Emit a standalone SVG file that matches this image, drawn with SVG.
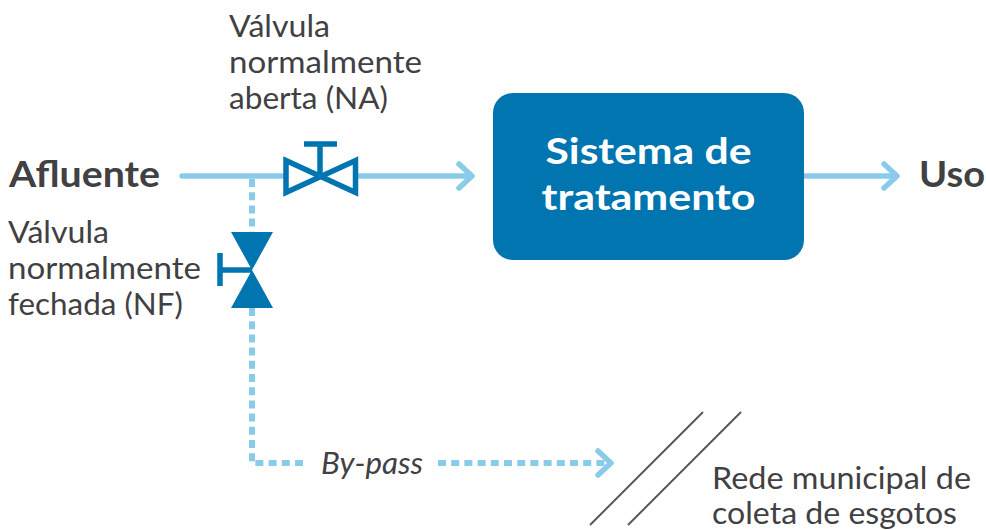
<svg xmlns="http://www.w3.org/2000/svg" width="986" height="530" viewBox="0 0 986 530">
<style>
.t{font-family:Lato,"Open Sans","Liberation Sans",sans-serif;fill:#414042}
.r{font-size:30px}
.b{font-size:36px;font-weight:700}
.c{stroke:#89cbe9;stroke-width:5.5;fill:none}
.h{stroke-linecap:round;stroke-linejoin:round}
.d{stroke-dasharray:8 5.2;stroke-width:6}
.v{fill:#0075b0}
.vs{stroke:#0075b0;fill:none}
</style>
<rect width="986" height="530" fill="#fff"/>
<g id="connectors">
<path class="c h" d="M182 176H284"/>
<path class="c" d="M356 176H472"/>
<path class="c h" d="M459 164L472 176L459 188"/>
<path class="c" d="M803 176H897"/>
<path class="c h" d="M884 164L897 176L884 188"/>
<path class="c d" d="M252 179V232"/>
<path class="c d" d="M252 308V463H303"/>
<path class="c d" d="M438 463H608"/>
<path class="c h" d="M598 451L611 463L598 475"/>
<path d="M590 525L703 412M628 525L741 412" stroke="#58595b" stroke-width="2" fill="none"/>
</g>
<g id="valve-na">
<path class="vs" stroke-width="5.500" d="M286 160.500V192.500L355.500 160.500V192.500Z"/>
<path class="vs" stroke-width="5.500" d="M320 176V144M304 144H337"/>
</g>
<g id="valve-nf">
<path class="v" d="M231 232H273L231 308H273Z"/>
<path class="vs" stroke-width="5.500" d="M252 270H220M220 253V286"/>
</g>
<g id="sistema">
<rect x="493" y="93" width="311" height="167" rx="20" fill="#0075b0"/>
<text class="t b" style="fill:#fff" x="648.500" y="164" text-anchor="middle" textLength="206" lengthAdjust="spacingAndGlyphs">Sistema de</text>
<text class="t b" style="fill:#fff" x="648.500" y="210" text-anchor="middle" textLength="214" lengthAdjust="spacingAndGlyphs">tratamento</text>
</g>
<g id="afluente"><text class="t b" x="9" y="187" textLength="151" lengthAdjust="spacingAndGlyphs">Afluente</text></g>
<g id="uso"><text class="t b" x="919" y="187" textLength="66" lengthAdjust="spacingAndGlyphs">Uso</text></g>
<g id="label-na">
<text class="t r" x="229" y="37" textLength="101" lengthAdjust="spacingAndGlyphs">Válvula</text>
<text class="t r" x="229" y="73" textLength="193" lengthAdjust="spacingAndGlyphs">normalmente</text>
<text class="t r" x="229" y="109" textLength="159" lengthAdjust="spacingAndGlyphs">aberta (NA)</text>
</g>
<g id="label-nf">
<text class="t r" x="8" y="243" textLength="101" lengthAdjust="spacingAndGlyphs">Válvula</text>
<text class="t r" x="8" y="279" textLength="193" lengthAdjust="spacingAndGlyphs">normalmente</text>
<text class="t r" x="8" y="315" textLength="175" lengthAdjust="spacingAndGlyphs">fechada (NF)</text>
</g>
<g id="bypass"><text class="t r" font-style="italic" x="321" y="474" textLength="102" lengthAdjust="spacingAndGlyphs">By-pass</text></g>
<g id="rede">
<text class="t r" x="712" y="489" textLength="259" lengthAdjust="spacingAndGlyphs">Rede municipal de</text>
<text class="t r" x="712" y="524" textLength="245" lengthAdjust="spacingAndGlyphs">coleta de esgotos</text>
</g>
</svg>
